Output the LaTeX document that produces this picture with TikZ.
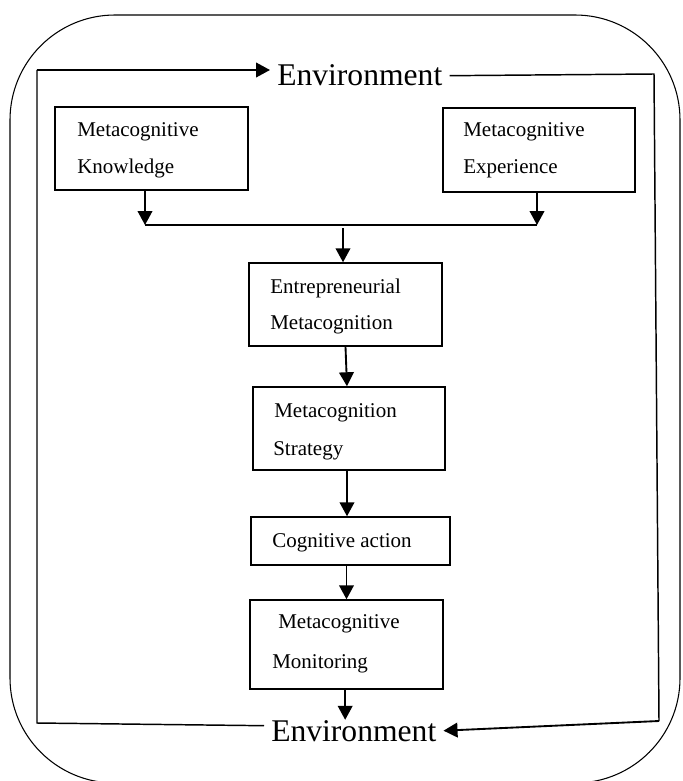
\documentclass[tikz,border=0pt]{standalone}
\usepackage{fontspec}
\setmainfont{Liberation Serif}
\usetikzlibrary{arrows.meta}
\begin{document}
\begin{tikzpicture}[x=0.75pt,y=-0.75pt,
  bx/.style 2 args={draw,line width=1.1pt,inner sep=0pt,minimum width={#1*0.75pt},minimum height={#2*0.75pt}},
  lbl/.style={anchor=base west,inner sep=0pt,font=\fontsize{15.75}{18}\selectfont},
  env/.style={inner xsep=5.25pt,inner ysep=0pt,anchor=base west,font=\fontsize{23.7}{28}\selectfont},
  ln/.style={line width=1.1pt},
  arr/.style={line width=1.4pt,-{Triangle[length=10.5pt,width=11pt]}}]
\clip (0,0) rectangle (682,781);
% outer rounded frame
\draw[line width=0.8pt,rounded corners=78.75pt] (10,15) rectangle (680,783);

% boxes
\node[bx={193}{83}] (mk) at (151.5,148.5) {};
\node[bx={192}{84}] (me) at (539,150) {};
\node[bx={193}{83}] (em) at (345.5,304.5) {};
\node[bx={192}{83}] (ms) at (349,428.5) {};
\node[bx={199}{48}] (ca) at (350.5,541) {};
\node[bx={193}{89}] (mm) at (346.5,644.5) {};

% box texts
\node[lbl] (mk1) at (77,137) {Metacognitive};
\node[lbl] (mk2) at (77,173) {Knowledge};
\node[lbl] (me1) at (463,137) {Metacognitive};
\node[lbl] (me2) at (463,173) {Experience};
\node[lbl] (em1) at (270,293) {Entrepreneurial};
\node[lbl] (em2) at (270,329) {Metacognition};
\node[lbl] (ms1) at (274,417) {Metacognition};
\node[lbl] (ms2) at (273,455) {Strategy};
\node[lbl] (ca1) at (272,547) {Cognitive action};
\node[lbl] (mm1) at (278,628) {Metacognitive};
\node[lbl] (mm2) at (272,668) {Monitoring};

% environment labels
\node[env] (envT) at (270,86) {Environment};
\node[env] (envB) at (264,741) {Environment};

% frame corners
\coordinate (tl) at (37,70);
\coordinate (bl) at (37,723);
\coordinate (tr) at (654,74);
\coordinate (br) at (659,721);

% join line
\coordinate (jl) at (145,225);
\coordinate (jr) at (537,225);
\coordinate (jc) at (343,228);

% loop connectors
\draw[ln] ([yshift=3.75pt]envB.west) -- (bl) -- (tl);
\draw[arr] (tl) -- (envT.west |- tl);
\draw[ln] (envT.east) -- (tr) -- (br);
\draw[arr] (br) -- (envB.east);

% flow
\draw[arr] (mk.south -| jl) -- (jl);
\draw[arr] (me.south -| jr) -- (jr);
\draw[ln] (jl) -- (jr);
\draw[arr] (jc) -- (jc |- em.north);
\draw[arr] (em.south) -- ([xshift=-1.5pt]ms.north);
\draw[arr] ([xshift=-1.5pt]ms.south) -- ([xshift=-1.5pt]ms.north |- ca.north);
\draw[arr] (mm.north |- ca.south) -- (mm.north);
\draw[arr] ([xshift=-1pt]mm.south) -- ([xshift=-1pt]mm.south |- envB.north);
\end{tikzpicture}
\end{document}
